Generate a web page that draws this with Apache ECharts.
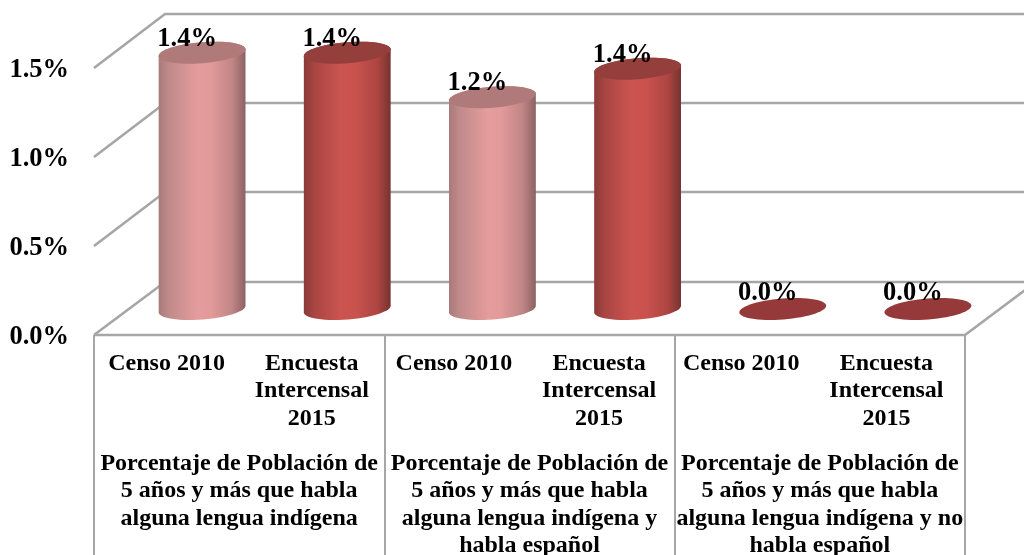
<!DOCTYPE html>
<html><head><meta charset="utf-8">
<style>html,body{margin:0;padding:0;background:#fff}#c{width:1024px;height:555px}</style>
<script src="https://cdn.jsdelivr.net/npm/echarts@6/dist/echarts.min.js"></script>
</head><body><div id="c"></div>
<script>
var categories = ['Censo 2010','Encuesta\nIntercensal\n2015','Censo 2010 ','Encuesta \nIntercensal \n2015 ','Censo 2010  ','Encuesta  \nIntercensal  \n2015  '];
var groups = [
 'Porcentaje de Población de\n5 años y más que habla\nalguna lengua indígena\n ',
 'Porcentaje de Población de\n5 años y más que habla\nalguna lengua indígena y\nhabla español',
 'Porcentaje de Población de\n5 años y más que habla\nalguna lengua indígena y no\nhabla español'
];
var values = [1.44,1.44,1.19,1.35,0.0,0.0];
var valueLabels = ['1.4%','1.4%','1.2%','1.4%','0.0%','0.0%'];
var tickValues = [0,0.5,1.0,1.5];

var FONT = '"Liberation Serif","Times New Roman",serif';
var GRAY = '#a6a6a6';
var DX = 71, DY = -54;       // depth of the 3D box
var PINK = {stops:[[0,'#a87a7a'],[0.12,'#c08a8a'],[0.45,'#e59c9c'],[0.6,'#e29a9a'],[0.85,'#c08585'],[1,'#8c6262']],top:'#b07a7a'};
var RED  = {stops:[[0,'#8a3a38'],[0.12,'#a84542'],[0.42,'#cb5450'],[0.6,'#c9524e'],[0.85,'#ad4541'],[1,'#763331']],top:'#943f3c'};
var PHI = -4.6*Math.PI/180;

function ell(cx,cy,a,b,t0,t1,n){
  var pts=[],c=Math.cos(PHI),s=Math.sin(PHI);
  for(var i=0;i<=n;i++){
    var t=t0+(t1-t0)*i/n,x=a*Math.cos(t),y=b*Math.sin(t);
    pts.push([cx+x*c-y*s,cy+x*s+y*c]);
  }
  return pts;
}
function gradient(stops){
  return {type:'linear',x:0,y:0,x2:1,y2:0,colorStops:stops.map(function(s){return {offset:s[0],color:s[1]};})};
}
function renderWall(params,api){
  var v=api.value(0), p=api.coord([0,v]);
  var band=api.size([1,0])[0];
  var x0=p[0]-band/2, x1=api.coord([categories.length-1,v])[0]+band/2;
  var y=p[1];
  var dy = v===0 ? DY+1 : DY;
  var pts=[[x0,y],[x0+DX,y+dy],[x1+DX,y+dy]];
  var kids=[{type:'polyline',shape:{points:pts},style:{stroke:GRAY,lineWidth:2.6,fill:null}}];
  if(v===0){
    kids.push({type:'polyline',shape:{points:[[x0,y],[x1,y],[x1+DX,y+dy]]},style:{stroke:GRAY,lineWidth:2.6,fill:null}});
  }
  return {type:'group',children:kids};
}
function renderCyl(params,api){
  var i=api.value(0),v=api.value(1);
  var top=api.coord([i,v]),base=api.coord([i,0]);
  var a=api.size([1,0])[0]*0.30,b=10.5;
  var cx=base[0]+DX/2, by=base[1]+DY/2+1, ty=top[1]+DY/2+1;
  var pal=(i%2===0&&v>0)?PINK:RED;
  var kids=[];
  if(v>0){
    var body=ell(cx,by,a,b,0,Math.PI,28).concat(ell(cx,ty,a,b,Math.PI,2*Math.PI,28));
    kids.push({type:'polygon',shape:{points:body},style:{fill:gradient(pal.stops)}});
  }
  kids.push({type:'polygon',shape:{points:ell(cx,ty,a,b,0,2*Math.PI,60)},style:{fill:v>0?pal.top:'#96393a'}});
  kids.push({type:'text',x:base[0]+20.5,y:top[1]-(v>0?40:42),style:{text:valueLabels[i],font:'bold 26.5px '+FONT,fill:'#000',textAlign:'center',textVerticalAlign:'middle'}});
  return {type:'group',children:kids};
}
var chart=echarts.init(document.getElementById('c'),null,{renderer:'canvas'});
chart.setOption({
  animation:false,
  backgroundColor:'#fff',
  grid:{left:94,right:59,top:68,bottom:220,containLabel:false,outerBoundsMode:'none'},
  xAxis:[
   {type:'category',data:categories,position:'bottom',boundaryGap:true,
    axisLine:{show:false},axisTick:{show:false},
    axisLabel:{interval:0,color:'#000',fontFamily:FONT,fontWeight:'bold',fontSize:24,lineHeight:27.5,margin:15,verticalAlign:'top'}},
   {type:'category',data:groups,position:'bottom',boundaryGap:true,
    axisLine:{show:false},axisTick:{show:true,length:220,alignWithLabel:false,lineStyle:{color:GRAY,width:2}},
    axisLabel:{interval:0,color:'#000',fontFamily:FONT,fontWeight:'bold',fontSize:24,lineHeight:27.5,margin:115,verticalAlign:'top'}}
  ],
  yAxis:{type:'value',min:0,max:1.5,interval:0.5,
    axisLine:{show:false},axisTick:{show:false},splitLine:{show:false},
    axisLabel:{margin:25,
      formatter:function(v){return '{t|'+v.toFixed(1)+'%}';},
      rich:{t:{color:'#000',fontFamily:FONT,fontWeight:'bold',fontSize:26.5,padding:[4,0,0,0]}}}},
  series:[
   {type:'custom',name:'wall',xAxisIndex:0,z:1,silent:true,clip:false,renderItem:renderWall,data:tickValues.map(function(v){return [v];}),encode:{y:0}},
   {type:'custom',name:'cyl',xAxisIndex:0,z:2,silent:true,clip:false,renderItem:renderCyl,data:values.map(function(v,i){return [i,v];}),encode:{x:0,y:1}}
  ]
});
</script></body></html>
